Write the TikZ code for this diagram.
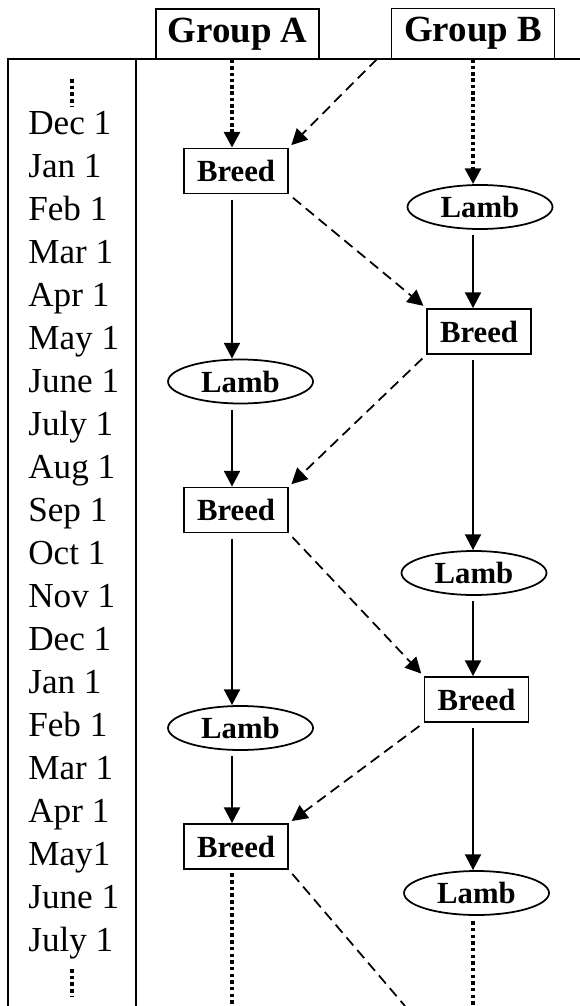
\documentclass[tikz,border=0pt]{standalone}
\usepackage{fontspec}
\setmainfont{Liberation Serif}
\usetikzlibrary{arrows.meta,shapes.geometric}

\begin{document}
\begin{tikzpicture}[x=0.02cm, y=-0.02cm,
    frameline/.style={line width=0.9pt},
    groupbox/.style={draw, line width=1pt, fill=white, inner sep=0pt,
      minimum width=3.26cm, minimum height=1cm,
      font=\fontsize{21}{25}\selectfont\bfseries},
    breedbox/.style={draw, line width=1pt, inner sep=0pt,
      minimum width=2.08cm, minimum height=0.9cm,
      font=\fontsize{17.5}{20}\selectfont\bfseries},
    lambnode/.style={draw, ellipse, line width=1pt, inner sep=0pt,
      minimum width=2.9cm, minimum height=0.88cm,
      font=\fontsize{17.5}{20}\selectfont\bfseries},
    datelabel/.style={anchor=base west, inner sep=0pt,
      font=\fontsize{20}{24}\selectfont},
    solidarrow/.style={line width=1.5pt, -{Triangle[length=9pt,width=9pt]},
      shorten <=3pt},
    dotarrow/.style={line width=2pt, dash pattern=on 2pt off 1.6pt,
      -{Triangle[length=9pt,width=9pt]}},
    dotline/.style={line width=2pt, dash pattern=on 2pt off 1.8pt},
    dasharrow/.style={line width=1pt, dash pattern=on 6pt off 3.5pt,
      -{Triangle[length=9pt,width=9pt]}, shorten <=3pt, shorten >=2pt},
    dashline/.style={line width=1pt, dash pattern=on 6pt off 3.5pt,
      shorten <=3pt}]
  \useasboundingbox (0,0) rectangle (580,1006);

  % frame
  \draw[frameline] (8,1006) -- (8,59) -- (580,59);
  \draw[frameline] (136,59) -- (136,1006);

  % months
  \draw[dotline] (72,79) -- (72,106);
  \foreach \lbl [count=\i from 0] in {Dec 1, Jan 1, Feb 1, Mar 1, Apr 1,
      May 1, June 1, July 1, Aug 1, Sep 1, Oct 1, Nov 1, Dec 1, Jan 1,
      Feb 1, Mar 1, Apr 1, May1, June 1, July 1}
    \node[datelabel] (m\i) at (28,{135+42.95*\i}) {\lbl};
  \draw[dotline] (72,969) -- (72,996);

  \node[groupbox] (groupA) at (237.5,34) {Group A};
  \node[groupbox] (groupB) at (473,33.5) {Group B};

  \node[breedbox] (breedA1) at (236,171) {Breed};
  \node[lambnode] (lambA1) at (240.5,381.5) {Lamb};
  \node[breedbox] (breedA2) at (236,510) {Breed};
  \node[lambnode] (lambA2) at (240.5,728) {Lamb};
  \node[breedbox] (breedA3) at (236,846.5) {Breed};

  \node[lambnode] (lambB1) at (480,207) {Lamb};
  \node[breedbox] (breedB1) at (479,331.5) {Breed};
  \node[lambnode] (lambB2) at (474,573) {Lamb};
  \node[breedbox] (breedB2) at (476.5,699.5) {Breed};
  \node[lambnode] (lambB3) at (476.5,893) {Lamb};

  \coordinate (colA) at (232,0);
  \coordinate (colB) at (473,0);
  \coordinate (dashstart) at (377,59);
  \coordinate (bottomA) at (232,1006);
  \coordinate (bottomB) at (473,1006);
  \coordinate (bottomdash) at (405,1006);

  \draw[dotarrow] (groupA.south -| colA) -- (breedA1.north -| colA);
  \draw[dotarrow] (groupB.south -| colB) -- (lambB1.north -| colB);

  \draw[solidarrow] (breedA1.south -| colA) -- (lambA1.north -| colA);
  \draw[solidarrow] (lambA1.south -| colA) -- (breedA2.north -| colA);
  \draw[solidarrow] (breedA2.south -| colA) -- (lambA2.north -| colA);
  \draw[solidarrow] (lambA2.south -| colA) -- (breedA3.north -| colA);
  \draw[solidarrow] (lambB1.south -| colB) -- (breedB1.north -| colB);
  \draw[solidarrow] (breedB1.south -| colB) -- (lambB2.north -| colB);
  \draw[solidarrow] (lambB2.south -| colB) -- (breedB2.north -| colB);
  \draw[solidarrow] (breedB2.south -| colB) -- (lambB3.north -| colB);

  \draw[dotline, shorten <=2pt] (breedA3.south -| colA) -- (bottomA);
  \draw[dotline, shorten <=3pt] (lambB3.south -| colB) -- (bottomB);

  \draw[dasharrow, shorten <=0pt] (dashstart) -- (breedA1.north east);
  \draw[dasharrow] (breedA1.south east) -- (breedB1.north west);
  \draw[dasharrow] (breedB1.south west) -- (breedA2.north east);
  \draw[dasharrow] (breedA2.south east) -- (breedB2.north west);
  \draw[dasharrow] (breedB2.south west) -- (breedA3.north east);
  \draw[dashline] (breedA3.south east) -- (bottomdash);
\end{tikzpicture}
\end{document}
